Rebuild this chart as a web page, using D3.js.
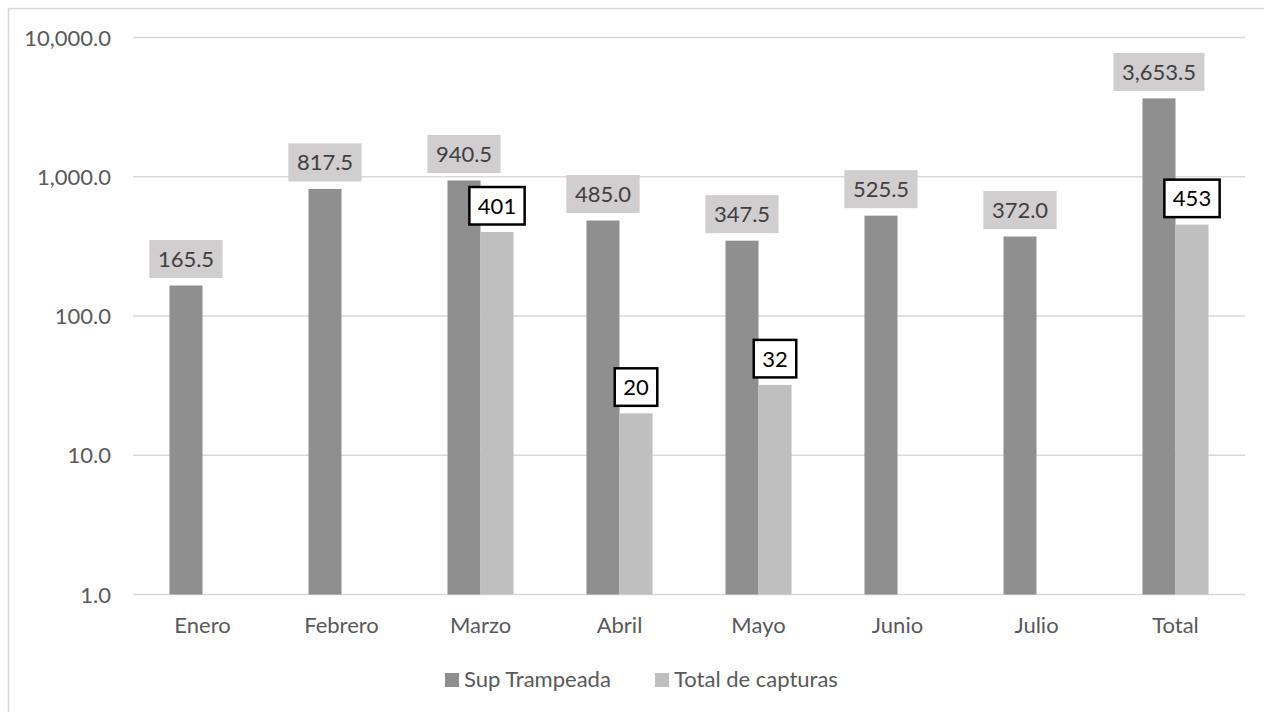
<!DOCTYPE html>
<html>
<head>
<meta charset="utf-8">
<script src="https://cdn.jsdelivr.net/npm/d3@7"></script>
<style>
  html, body { margin: 0; padding: 0; background: #fff; }
  svg { display: block; }
  text { font-family: Lato, "Open Sans", sans-serif; }
</style>
</head>
<body>
<svg id="chart" width="1264" height="712"></svg>
<script>
const categories = ["Enero", "Febrero", "Marzo", "Abril", "Mayo", "Junio", "Julio", "Total"];
const seriesNames = ["Sup Trampeada", "Total de capturas"];
const supTrampeada = [165.5, 817.5, 940.5, 485.0, 347.5, 525.5, 372.0, 3653.5];
const totalCapturas = [null, null, 401, 20, 32, null, null, 453];
const yTicks = [1, 10, 100, 1000, 10000];

const W = 1264, H = 712;
const svg = d3.select("#chart");
const colors = { "Sup Trampeada": "#8f8f8f", "Total de capturas": "#bfbfbf" };

// outer chart border
svg.append("rect").attr("x", 8.5).attr("y", 8.5).attr("width", 1400).attr("height", 900)
  .attr("fill", "none").attr("stroke", "#d9d9d9").attr("stroke-width", 1.5);

const plot = { left: 133, right: 1245, top: 37.5, bottom: 594.5 };

const x = d3.scaleBand().domain(categories).range([plot.left, plot.right]).padding(0);
const groupW = x.bandwidth() * 0.475;
const xs = d3.scaleBand().domain(seriesNames).range([0, groupW]).padding(0);
const y = d3.scaleLog().domain([1, 10000]).range([plot.bottom, plot.top]);

// gridlines
svg.append("g").selectAll("line").data(yTicks).join("line")
  .attr("x1", plot.left).attr("x2", plot.right)
  .attr("y1", d => y(d)).attr("y2", d => y(d))
  .attr("stroke", "#d9d9d9").attr("stroke-width", 1.5);

// y axis labels via d3 axis
const yAxis = d3.axisLeft(y).tickValues(yTicks).tickFormat(d3.format(",.1f")).tickSize(0).tickPadding(0);
const yg = svg.append("g").attr("transform", "translate(111,0)").call(yAxis);
yg.select(".domain").remove();
yg.selectAll("text").attr("fill", "#595959").style("font-size", "22px").style("font-family", "Lato, sans-serif")
  .attr("dy", "0.35em");

// x axis labels
const xAxis = d3.axisBottom(x).tickSize(0).tickPadding(0);
const xg = svg.append("g").attr("transform", "translate(0,633)").call(xAxis);
xg.select(".domain").remove();
xg.selectAll("text").attr("fill", "#595959").style("font-size", "22px").style("font-family", "Lato, sans-serif")
  .attr("dy", 0).attr("y", 0);

const rows = categories.map((c, i) => ({ cat: c, vals: [
  { s: seriesNames[0], v: supTrampeada[i] },
  { s: seriesNames[1], v: totalCapturas[i] }
]}));

const groups = svg.append("g").selectAll("g").data(rows).join("g")
  .attr("transform", d => `translate(${x(d.cat) + x.bandwidth() / 2 - groupW / 2},0)`);

groups.selectAll("rect").data(d => d.vals.filter(v => v.v != null)).join("rect")
  .attr("x", d => xs(d.s)).attr("width", xs.bandwidth())
  .attr("y", d => y(d.v)).attr("height", d => plot.bottom - y(d.v))
  .attr("fill", d => colors[d.s]);

// data labels
const fmtSup = d3.format(",.1f");
const labelLayer = svg.append("g");
rows.forEach(r => {
  const gx = x(r.cat) + x.bandwidth() / 2 - groupW / 2;
  r.vals.forEach(v => {
    if (v.v == null) return;
    const cx = gx + xs(v.s) + xs.bandwidth() / 2;
    const isSup = v.s === seriesNames[0];
    const txt = isSup ? fmtSup(v.v) : d3.format("d")(v.v);
    const g = labelLayer.append("g");
    const t = g.append("text").text(txt).attr("text-anchor", "middle")
      .style("font-size", "22px").attr("fill", isSup ? "#404040" : "#000");
    const tw = t.node().getComputedTextLength();
    const bw = tw + 17, bh = isSup ? 38 : 37.5;
    const bottom = y(v.v) - 7.5;
    const top = bottom - bh;
    g.insert("rect", "text")
      .attr("x", cx - bw / 2).attr("y", top).attr("width", bw).attr("height", bh)
      .attr("fill", isSup ? "#d0cece" : "#fff")
      .attr("stroke", isSup ? "none" : "#000").attr("stroke-width", isSup ? 0 : 2.5);
    t.attr("x", cx).attr("y", top + bh / 2).attr("dy", "0.36em");
  });
});

// legend
const legend = svg.append("g");
const legendItems = [{ s: seriesNames[0], x: 445 }, { s: seriesNames[1], x: 655 }];
legendItems.forEach(it => {
  legend.append("rect").attr("x", it.x).attr("y", 673).attr("width", 14).attr("height", 14).attr("fill", colors[it.s]);
  legend.append("text").attr("x", it.x + 19).attr("y", 687).text(it.s)
    .style("font-size", "22px").attr("fill", "#595959");
});
</script>
</body>
</html>
